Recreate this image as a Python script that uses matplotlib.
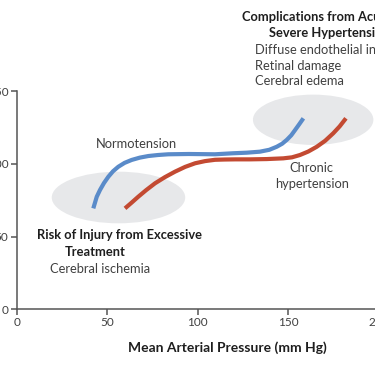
import matplotlib
matplotlib.use("Agg")
import matplotlib.pyplot as plt
from matplotlib.patches import Ellipse

# mean arterial pressure (mm Hg) vs cerebral blood flow
normo_map = [42.3, 44.2, 46.0, 48.2, 50.6, 53.2, 56.1, 59.6, 63.5, 68.0, 72.7, 78.0, 83.7,
             95.0, 109.5, 119.4, 127.0, 134.3, 139.5, 143.6, 146.6, 149.1, 151.6, 153.7, 156.0, 158.3]
normo_flow = [69.4, 77.4, 82.1, 86.9, 91.2, 95.0, 98.1, 100.8, 102.8, 104.4, 105.5, 106.2, 106.7,
              106.9, 106.7, 107.4, 107.8, 108.5, 109.8, 111.9, 114.0, 116.6, 119.8, 123.4, 127.4, 131.5]

chronic_map = [59.8, 63.5, 67.1, 71.5, 76.4, 81.8, 87.4, 93.0, 98.5, 104.0, 109.5, 115.0, 121.0,
               128.8, 138.0, 147.2, 152.0, 156.4, 161.0, 165.7, 170.3, 174.8, 178.3, 181.8]
chronic_flow = [69.4, 73.4, 77.4, 82.0, 86.7, 90.9, 94.7, 98.0, 100.5, 102.0, 102.9, 103.1, 103.2,
                103.2, 103.4, 103.9, 104.6, 106.2, 108.6, 111.9, 116.0, 121.2, 125.9, 131.5]

# shaded risk zones: centre and extent in data units
zone_map = [56.2, 163.7]
zone_flow = [76.9, 130.5]
zone_map_span = [73.7, 66.5]
zone_flow_span = [35.6, 34.7]

x_ticks = [0, 50, 100, 150, 200]
y_ticks = [0, 50, 100, 150]

plt.rcParams['font.family'] = ['Lato', 'DejaVu Sans']

W, H = 375, 366
fig = plt.figure(figsize=(W / 100, H / 100), dpi=100)
# axes box in pixels: x 16.7..378.9, y 91.5..309 (from top)
ax = fig.add_axes([16.7 / W, (H - 309) / H, (378.9 - 16.7) / W, (309 - 91.5) / H])

axis_col = '#555555'
text_col = '#404040'
bold_col = '#1e1e1e'

for cx, cy, w, h in zip(zone_map, zone_flow, zone_map_span, zone_flow_span):
    ax.add_patch(Ellipse((cx, cy), w, h, facecolor='#e7e8ea', edgecolor='none',
                         zorder=1, clip_on=False))

ax.plot(normo_map, normo_flow, color='#5a8bc9', lw=3.0, solid_capstyle='butt',
        solid_joinstyle='round', zorder=3, clip_on=False)
ax.plot(chronic_map, chronic_flow, color='#c34a32', lw=3.0, solid_capstyle='butt',
        solid_joinstyle='round', zorder=3, clip_on=False)

ax.set_xlim(0, 200)
ax.set_ylim(0, 150)
ax.set_xticks(x_ticks)
ax.set_yticks(y_ticks)
for s in ['top', 'right']:
    ax.spines[s].set_visible(False)
for s in ['left', 'bottom']:
    ax.spines[s].set_color(axis_col)
    ax.spines[s].set_linewidth(1.1)
ax.tick_params(colors=axis_col, labelcolor=text_col, labelsize=8.5, length=4, width=1.1, pad=2)

# axis label (the original panel is cropped, so it is not centred on the visible axis)
ax.text(116.1, -26.9, 'Mean Arterial Pressure (mm Hg)', ha='center', va='center',
        fontsize=10, fontweight='bold', color=bold_col, clip_on=False)

reg = dict(fontsize=9.3, color=text_col, va='center', clip_on=False, zorder=4)
bold = dict(fontsize=9.3, color=bold_col, fontweight='bold', va='center', clip_on=False, zorder=4)

ax.text(124.2, 201.6, 'Complications from Acute', ha='left', **bold)
ax.text(139.5, 190.1, 'Severe Hypertension', ha='left', **bold)
ax.text(131.6, 178.6, 'Diffuse endothelial injury', ha='left', **reg)
ax.text(131.6, 167.6, 'Retinal damage', ha='left', **reg)
ax.text(131.6, 157.2, 'Cerebral edema', ha='left', **reg)

ax.text(65.9, 113.6, 'Normotension', ha='center', **reg)
ax.text(162.9, 97.0, 'Chronic', ha='center', **reg)
ax.text(162.9, 86.2, 'hypertension', ha='center', **reg)

ax.text(11.0, 51.0, 'Risk of Injury from Excessive', ha='left', **bold)
ax.text(26.3, 39.1, 'Treatment', ha='left', **bold)
ax.text(18.4, 27.4, 'Cerebral ischemia', ha='left', **reg)

fig.savefig('out.png', dpi=100)
